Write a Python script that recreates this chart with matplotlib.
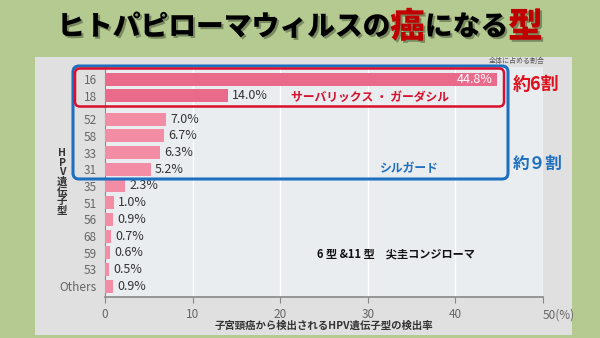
import numpy as np
import matplotlib
matplotlib.use('Agg')
import matplotlib.pyplot as plt
from matplotlib.patches import FancyBboxPatch, Rectangle
import matplotlib.patheffects as pe
import matplotlib.transforms as mtrans

plt.rcParams['font.family'] = ['Noto Sans CJK JP', 'DejaVu Sans']

# データ
types = ['16', '18', '52', '58', '33', '31', '35', '51', '56', '68', '59', '53', 'Others']
rates = [44.8, 14.0, 7.0, 6.7, 6.3, 5.2, 2.3, 1.0, 0.9, 0.7, 0.6, 0.5, 0.9]
xticks = [0, 10, 20, 30, 40, 50]
xticklabels = ['0', '10', '20', '30', '40', '50(%)']

W, H = 600, 338
fig = plt.figure(figsize=(6, 3.38), dpi=100)
fig.patch.set_facecolor('#b5ca91')

# 背景用の全面axes（ピクセル座標）
bg = fig.add_axes([0, 0, 1, 1])
bg.set_xlim(0, W)
bg.set_ylim(H, 0)
bg.axis('off')
bg.add_patch(Rectangle((35, 57), 537, 278, facecolor='#e0e0e0', edgecolor='none'))

# メインのグラフ
ax = fig.add_axes([105 / W, 1 - 297 / H, (543 - 105) / W, (297 - 67) / H])
ax.set_facecolor('#e9edf0')
idx = np.arange(len(types))
ypos = idx + np.where(idx >= 2, 0.4, 0.0)
colors = ['#e96a8b' if i < 2 else '#f28da5' for i in idx]
ax.barh(ypos, rates, height=0.78, color=colors, zorder=3)
ax.set_xlim(0, 50)
ax.set_ylim(13.05, -0.72)
ax.set_xticks(xticks)
ax.set_xticklabels(xticklabels, fontsize=8.5, color='#666666')
lab = ax.get_xticklabels()[-1]
lab.set_horizontalalignment('left')
lab.set_transform(lab.get_transform() + mtrans.ScaledTranslation(-6 / 72, 0, fig.dpi_scale_trans))
ax.set_yticks(ypos)
ax.set_yticklabels(types, fontsize=8.5, color='#666666')
ax.tick_params(axis='y', length=0, pad=6)
ax.tick_params(axis='x', length=4, color='#888888', pad=4, direction='out')
ax.grid(axis='x', color='white', linewidth=1, zorder=1)
for s in ['top', 'right']:
    ax.spines[s].set_visible(False)
ax.spines['left'].set_color('#888888')
ax.spines['bottom'].set_color('#888888')
ax.spines['bottom'].set_linewidth(1.2)

for y, v in zip(ypos, rates):
    if v > 30:
        ax.text(v - 0.5, y, f'{v:.1f}%', ha='right', va='center', color='white',
                fontsize=9, zorder=4)
    else:
        ax.text(v + 0.5, y, f'{v:.1f}%', ha='left', va='center', color='#333333',
                fontsize=9, zorder=4)

# 注釈用の前面axes
ov = fig.add_axes([0, 0, 1, 1])
ov.set_xlim(0, W)
ov.set_ylim(H, 0)
ov.axis('off')
ov.patch.set_alpha(0)

# 軸ラベル
ov.text(324, 326, '子宮頸癌から検出されるHPV遺伝子型の検出率', ha='center', va='center',
        fontsize=7.5, color='#333333', fontweight='bold')
ov.text(62, 182, 'H\nP\nV\n遺\n伝\n子\n型', ha='center', va='center', fontsize=7.5,
        color='#333333', fontweight='bold', linespacing=0.95)
ov.text(517, 61, '全体に占める割合', ha='center', va='center', fontsize=5, color='#555555')

# 枠
ov.add_patch(FancyBboxPatch((73, 66), 435, 113, boxstyle='round,pad=0,rounding_size=6',
                            facecolor='none', edgecolor='#1e6fc0', linewidth=2.2, zorder=5))
ov.add_patch(FancyBboxPatch((75, 68.5), 429, 38, boxstyle='round,pad=0,rounding_size=5',
                            facecolor='none', edgecolor='#d8102e', linewidth=1.8, zorder=6))
ov.text(370, 97, 'サーバリックス ・ ガーダシル', ha='center', va='center', fontsize=8.5,
        color='#d8102e', fontweight='bold', zorder=7)
ov.text(408, 169, 'シルガード', ha='center', va='center', fontsize=8.5,
        color='#1e6fc0', fontweight='bold', zorder=7)
ov.text(513, 85, '約6割', ha='left', va='center', fontsize=13, color='#e0101e',
        fontweight='bold')
ov.text(513, 164, '約９割', ha='left', va='center', fontsize=12, color='#1e6fc0',
        fontweight='bold')
ov.text(396, 254, '6 型 &11 型　尖圭コンジローマ', ha='center', va='center', fontsize=8,
        color='#111111', fontweight='bold')

# タイトル（部分ごとに色を変える）
parts = [('ヒトパピローマウィルスの', '#000000', 20), ('癌', '#c00000', 25),
         ('になる', '#000000', 20), ('型', '#c00000', 25)]
shadow = [pe.withSimplePatchShadow(offset=(1.5, -1.5), shadow_rgbFace='#6a7a55', alpha=0.8)]
fig.canvas.draw()
renderer = fig.canvas.get_renderer()
objs = []
for t, c, fs in parts:
    o = ov.text(0, 27, t, ha='left', va='center', fontsize=fs, color=c,
                fontweight='heavy', path_effects=shadow)
    objs.append(o)
widths = [o.get_window_extent(renderer).width for o in objs]
x0 = W / 2 - sum(widths) / 2
for o, w in zip(objs, widths):
    o.set_x(x0)
    x0 += w

fig.savefig('out.png', dpi=100, facecolor=fig.get_facecolor())
